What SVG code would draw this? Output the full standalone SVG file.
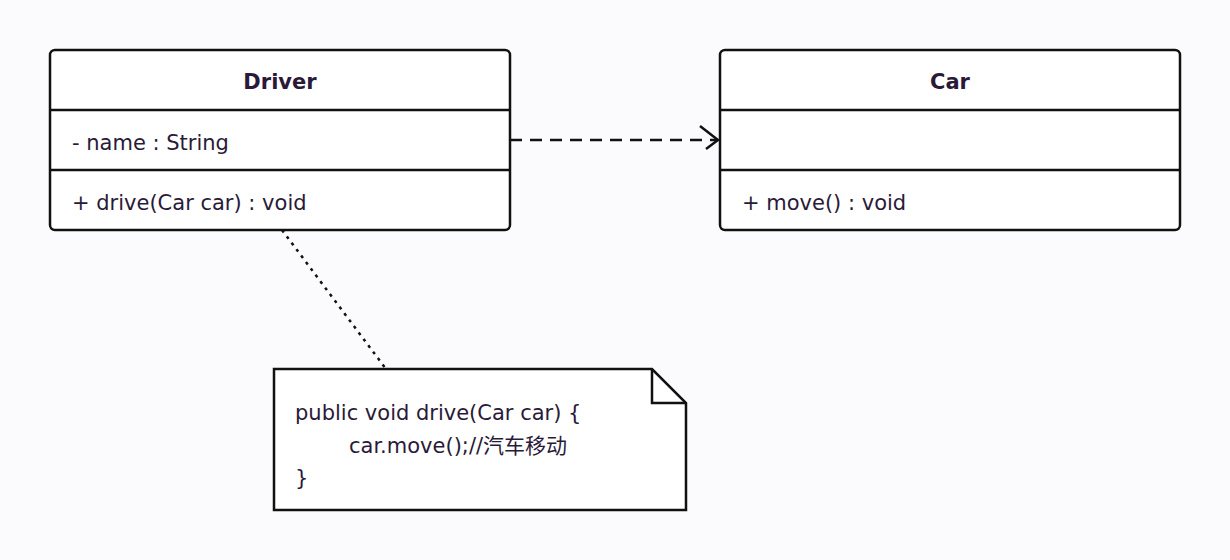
<svg xmlns="http://www.w3.org/2000/svg" width="1230" height="560" viewBox="0 0 1230 560">
<style>
.box{fill:#fff;stroke:#111;stroke-width:2.5}
.ln{stroke:#111;stroke-width:2.5}
text{font-family:"DejaVu Sans","Noto Sans CJK SC",sans-serif;font-size:21px;fill:#2a1a38}
.t{font-weight:bold;text-anchor:middle}
</style>
<rect width="1230" height="560" fill="#fbfbfd"/>
<g id="Driver">
<rect class="box" x="50" y="50" width="460" height="180" rx="5"/>
<line class="ln" x1="50" y1="110" x2="510" y2="110"/>
<line class="ln" x1="50" y1="170" x2="510" y2="170"/>
<text class="t" x="280" y="89">Driver</text>
<text x="72" y="150">- name : String</text>
<text x="72" y="210">+ drive(Car car) : void</text>
</g>
<g id="Car">
<rect class="box" x="720" y="50" width="460" height="180" rx="5"/>
<line class="ln" x1="720" y1="110" x2="1180" y2="110"/>
<line class="ln" x1="720" y1="170" x2="1180" y2="170"/>
<text class="t" x="950" y="89">Car</text>
<text x="742" y="210">+ move() : void</text>
</g>
<g id="note">
<path class="box" d="M274 369 H652 L686 403 V510 H274 Z"/>
<path d="M652 369 V403 H686" fill="none" stroke="#111" stroke-width="2.5"/>
<text x="295" y="420">public void drive(Car car) {</text>
<text x="349" y="453">car.move();//汽车移动</text>
<text x="295" y="485">}</text>
</g>
<g id="connectors" fill="none" stroke="#111" stroke-width="2.5">
<line x1="510" y1="140" x2="716" y2="140" stroke-dasharray="12,8"/>
<polyline points="700,126 718,140 706,149"/>
<line x1="282" y1="230" x2="386" y2="369" stroke-dasharray="3,5"/>
</g>
</svg>
